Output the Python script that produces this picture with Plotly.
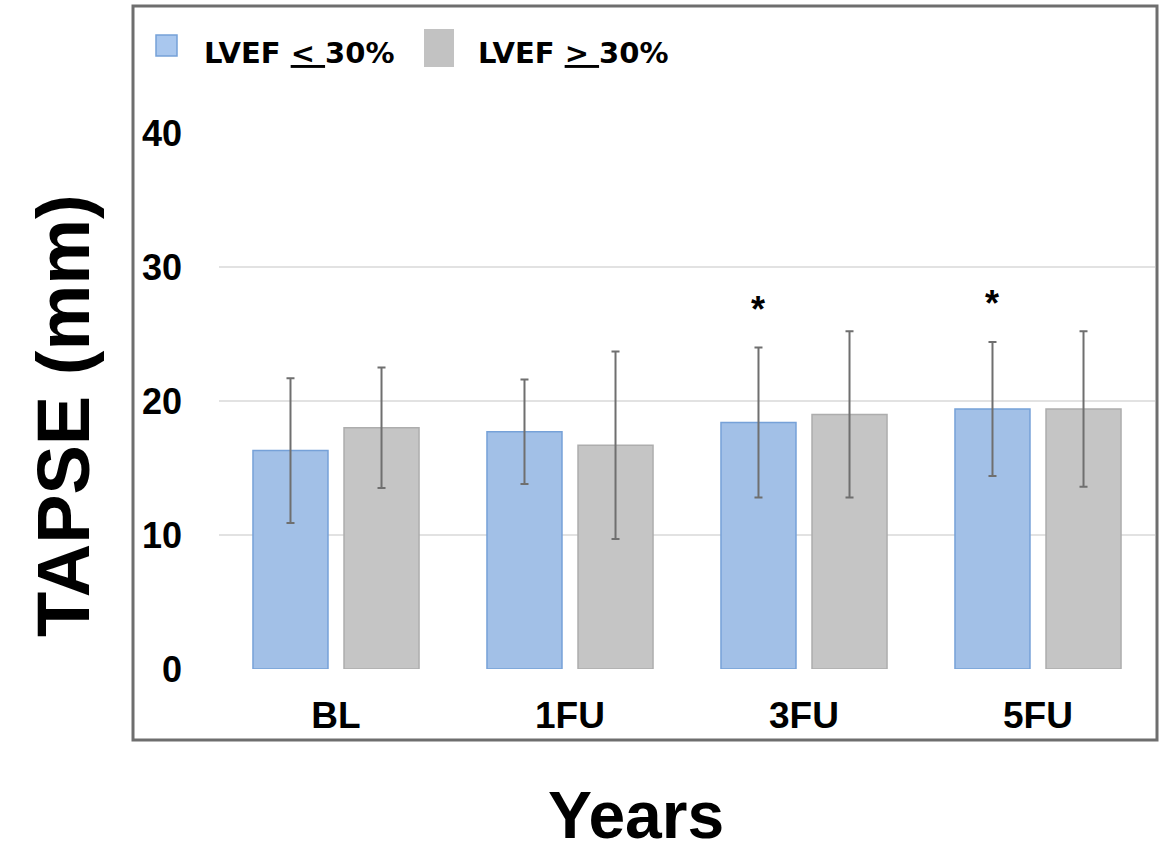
import plotly.graph_objects as go

# TAPSE by follow-up visit, split by LVEF group (mean ± SD)
visits = ["BL", "1FU", "3FU", "5FU"]
low_ef_mean = [16.3, 17.7, 18.4, 19.4]
low_ef_sd = [5.4, 3.9, 5.6, 5.0]
high_ef_mean = [18.0, 16.7, 19.0, 19.4]
high_ef_sd = [4.5, 7.0, 6.2, 5.8]

# significance markers over the LVEF <= 30% bars
sig_visits = ["3FU", "5FU"]
sig_y = [27.3, 27.7]

y_ticks = [0, 10, 20, 30, 40]

W, H = 1170, 854
ML, MR, MT, MB = 219, 15, 133, 185
PW, PH = W - ML - MR, H - MT - MB

BARGAP = 0.222
BARGROUPGAP = 0.176

BLUE_FILL = "#a2c0e7"
BLUE_LINE = "#76a1d8"
GREY_FILL = "#c5c5c5"
GREY_LINE = "#adadad"
ERR_COLOR = "#6f6f6f"

BOLD = "Liberation Sans, Arial, sans-serif"

fig = go.Figure()

fig.add_trace(go.Bar(
    x=visits, y=low_ef_mean, name="LVEF ≤ 30%",
    marker=dict(color=BLUE_FILL, line=dict(color=BLUE_LINE, width=1.5)),
    error_y=dict(type="data", array=low_ef_sd, visible=True,
                 color=ERR_COLOR, thickness=2, width=4),
))
fig.add_trace(go.Bar(
    x=visits, y=high_ef_mean, name="LVEF ≥ 30%",
    marker=dict(color=GREY_FILL, line=dict(color=GREY_LINE, width=1.5)),
    error_y=dict(type="data", array=high_ef_sd, visible=True,
                 color=ERR_COLOR, thickness=2, width=4),
))

# horizontal offset of the first bar of each group from the category centre
cat_px = PW / len(visits)
slot_px = cat_px * (1 - BARGAP) / 2
first_bar_shift = -slot_px / 2

annotations = []
for v, yv in zip(sig_visits, sig_y):
    annotations.append(dict(
        x=v, y=yv, xref="x", yref="y", text="<b>*</b>", showarrow=False,
        xshift=first_bar_shift, yshift=-6, yanchor="middle",
        font=dict(family=BOLD, size=36, color="black"),
    ))


def px_x(p):
    return (p - ML) / PW


def px_y(p):
    return (H - MB - p) / PH


# axis titles
annotations.append(dict(
    x=px_x(63), y=px_y(416), xref="paper", yref="paper",
    text="<b>TAPSE (mm)</b>", textangle=-90, showarrow=False,
    xanchor="center", yanchor="middle",
    font=dict(family=BOLD, size=74, color="black"),
))
annotations.append(dict(
    x=px_x(636), y=px_y(853), xref="paper", yref="paper",
    text="<b>Years</b>", showarrow=False, xanchor="center", yanchor="bottom",
    borderpad=0,
    font=dict(family=BOLD, size=66, color="black"),
))

# legend labels
LEG_FONT = dict(family="DejaVu Sans, sans-serif", size=29, color="black")
annotations.append(dict(
    x=px_x(202), y=px_y(53), xref="paper", yref="paper",
    text="<b>LVEF <u>&lt; </u>30%</b>", showarrow=False,
    xanchor="left", yanchor="middle", font=LEG_FONT,
))
annotations.append(dict(
    x=px_x(476), y=px_y(53), xref="paper", yref="paper",
    text="<b>LVEF <u>&gt; </u>30%</b>", showarrow=False,
    xanchor="left", yanchor="middle", font=LEG_FONT,
))

shapes = [
    # outer frame
    dict(type="rect", xref="paper", yref="paper",
         x0=px_x(133), x1=px_x(1157), y0=px_y(740), y1=px_y(6),
         line=dict(color="#6e6e6e", width=3), fillcolor="rgba(0,0,0,0)",
         layer="above"),
    # legend swatches
    dict(type="rect", xref="paper", yref="paper",
         x0=px_x(156), x1=px_x(177), y0=px_y(56), y1=px_y(35),
         line=dict(color=BLUE_LINE, width=1.5), fillcolor="#a9c7ee"),
    dict(type="rect", xref="paper", yref="paper",
         x0=px_x(424), x1=px_x(454), y0=px_y(67), y1=px_y(29),
         line=dict(width=0), fillcolor="#c2c2c2"),
]

fig.update_layout(
    width=W, height=H,
    margin=dict(l=ML, r=MR, t=MT, b=MB, pad=0),
    paper_bgcolor="white", plot_bgcolor="white",
    barmode="group", bargap=BARGAP, bargroupgap=BARGROUPGAP,
    showlegend=False,
    annotations=annotations, shapes=shapes,
    xaxis=dict(
        showgrid=False, showline=False, zeroline=False, ticks="",
        ticklabelstandoff=21,
        tickfont=dict(family=BOLD, size=37, color="black"),
        tickprefix="<b>", ticksuffix="</b>",
    ),
    yaxis=dict(
        range=[0, 40], tickvals=y_ticks, ticktext=[f"<b>{t}</b>" for t in y_ticks],
        showgrid=True, gridcolor="#e2e2e2", gridwidth=2,
        zeroline=False, showline=False, ticks="",
        ticklabelstandoff=36,
        tickfont=dict(family=BOLD, size=36, color="black"),
    ),
)

fig.write_html("out.html")
